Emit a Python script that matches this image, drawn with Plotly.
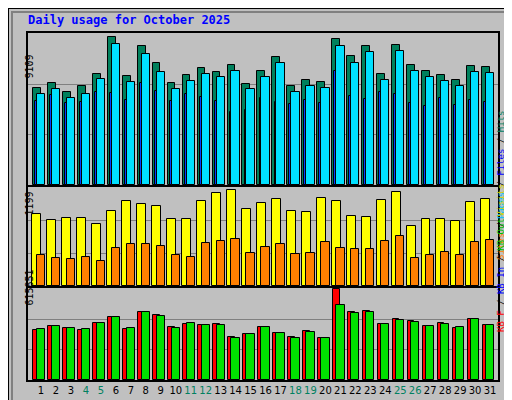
import plotly.graph_objects as go

days = list(range(1, 32))
weekends = [4, 5, 11, 12, 18, 19, 25, 26]

hits = [5890, 6190, 5650, 6010, 6740, 8930, 6620, 8440, 7410, 6190, 6680, 7100, 6860, 7280, 6130, 6920,
        7770, 6010, 6370, 6250, 8860, 7830, 8440, 6740, 8500, 7280, 6920, 6680, 6370, 7220, 7160]
files = [5530, 5830, 5290, 5530, 6440, 8560, 6260, 7900, 6860, 5830, 6320, 6740, 6560, 6920, 5830, 6560,
         7410, 5650, 6010, 5890, 8440, 7400, 8080, 6380, 8140, 6920, 6560, 6320, 6010, 6860, 6800]
pages = [5100, 5460, 4980, 5040, 5645, 5580, 5160, 6190, 5700, 5100, 5520, 5340, 5100, 4430, 4550, 5280,
         5050, 4920, 5160, 4980, 6920, 5400, 5220, 5640, 5520, 4980, 4800, 5280, 4860, 5160, 5040]
visits = [883, 808, 833, 833, 757, 921, 1035, 997, 984, 820, 820, 1035, 1136, 1174, 946, 1010,
          1060, 921, 909, 1073, 1035, 858, 846, 1047, 1148, 732, 820, 820, 795, 1022, 1060]
sites = [379, 341, 328, 353, 303, 467, 517, 517, 492, 379, 353, 530, 555, 580, 404, 480,
         517, 391, 404, 543, 467, 454, 454, 555, 606, 341, 379, 416, 379, 543, 568]
kb_in = [336000, 364000, 350000, 336000, 385000, 427000, 343000, 462000, 441000, 357000, 378000, 371000,
         378000, 294000, 308000, 357000, 315000, 294000, 329000, 287000, 615851, 462000, 469000, 378000,
         413000, 399000, 364000, 385000, 350000, 413000, 371000]
kb_out = [343000, 364000, 350000, 343000, 385000, 427000, 350000, 462000, 434000, 350000, 385000, 371000,
          371000, 287000, 308000, 357000, 315000, 287000, 322000, 287000, 504000, 455000, 462000, 378000,
          406000, 392000, 364000, 378000, 357000, 413000, 371000]

max_hits = 9109
max_visits = 1199
max_kb = 615851

edge = dict(color="black", width=1)
fig = go.Figure()

def bars(vals, color, off, w, ax):
    fig.add_trace(go.Bar(x=[d + off for d in days], y=vals, width=w, marker_color=color,
                         marker_line=edge, xaxis="x" + ax, yaxis="y" + ax, showlegend=False))

bars(hits, "#00805C", -0.28, 0.52, "")
bars(pages, "#0040FF", -0.33, 0.14, "")
bars(files, "#00E0FF", 0.0, 0.55, "")
bars(visits, "#FFFF00", -0.28, 0.6, "2")
bars(sites, "#FF8000", 0.0, 0.55, "2")
bars(kb_in, "#FF0000", -0.28, 0.45, "3")
bars(kb_out, "#00E000", 0.0, 0.55, "3")

xr = [0.13, 31.53]
xd = [20 / 512, 490 / 512]
ticktext = ['<span style="color:%s">%d</span>' % ("#008060" if d in weekends else "black", d) for d in days]
common = dict(range=xr, domain=xd, showline=True, linecolor="black", linewidth=2, mirror=True,
              showgrid=False, zeroline=False, automargin=False)
fig.update_layout(
    width=512, height=400, margin=dict(l=0, r=0, t=0, b=0),
    paper_bgcolor="#C0C0C0", plot_bgcolor="#C0C0C0", barmode="overlay", bargap=0,
    font=dict(family="DejaVu Sans Mono", size=11, color="black"),
    xaxis=dict(common, anchor="y", showticklabels=False, ticks=""),
    xaxis2=dict(common, anchor="y2", showticklabels=False, ticks=""),
    xaxis3=dict(common, anchor="y3", tickvals=days, ticktext=ticktext, ticks="", tickangle=0,
                tickfont=dict(family="DejaVu Sans", size=10)),
)
for name, mx, dom in [("yaxis", max_hits, [0.5575, 0.9375]), ("yaxis2", max_visits, [0.305, 0.5525]),
                      ("yaxis3", max_kb, [0.07, 0.30])]:
    fig.update_layout({name: dict(range=[0, mx * 1.01], domain=dom, tickvals=[mx / 3, 2 * mx / 3],
                                  showticklabels=False, ticks="", showgrid=True, gridcolor="#808080",
                                  showline=True, linecolor="black", linewidth=2, mirror=True,
                                  zeroline=False, automargin=False)})

fig.add_annotation(x=18 / 512, y=1 - 12 / 400, xref="paper", yref="paper", xanchor="left", yanchor="middle",
                   text="<b>Daily usage for October 2025</b>", showarrow=False,
                   font=dict(color="#0000FF", size=12))
for txt, ypix in [(str(max_hits), 45), (str(max_visits), 196), (str(max_kb), 300)]:
    fig.add_annotation(x=13 / 512, y=1 - ypix / 400, xref="paper", yref="paper", text=txt, textangle=-90,
                       showarrow=False, font=dict(size=10))
right = [
    ('<span style="color:#00C0FF">Pages</span> / <span style="color:#0000FF">Files</span> / '
     '<span style="color:#008060">Hits</span>', 101),
    ('<span style="color:#FF8000">Sites</span> / <span style="color:#D0D000">Visits</span>', 214),
    ('<span style="color:#FF0000">KB F</span> / <span style="color:#0000FF">KB In</span> / '
     '<span style="color:#00C000">KB Out</span>', 326),
]
for txt, ypix in right:
    fig.add_annotation(x=500 / 512, y=1 - ypix / 400, xref="paper", yref="paper", text=txt, textangle=-90,
                       showarrow=False, font=dict(size=9))
fig.add_shape(type="rect", xref="paper", yref="paper", x0=0, y0=0, x1=1, y1=1, line=dict(color="black", width=2))
fig.add_shape(type="rect", xref="paper", yref="paper", x0=4 / 512, y0=4 / 400, x1=508 / 512, y1=396 / 400,
              line=dict(color="#808080", width=2))
fig.write_html("out.html")
